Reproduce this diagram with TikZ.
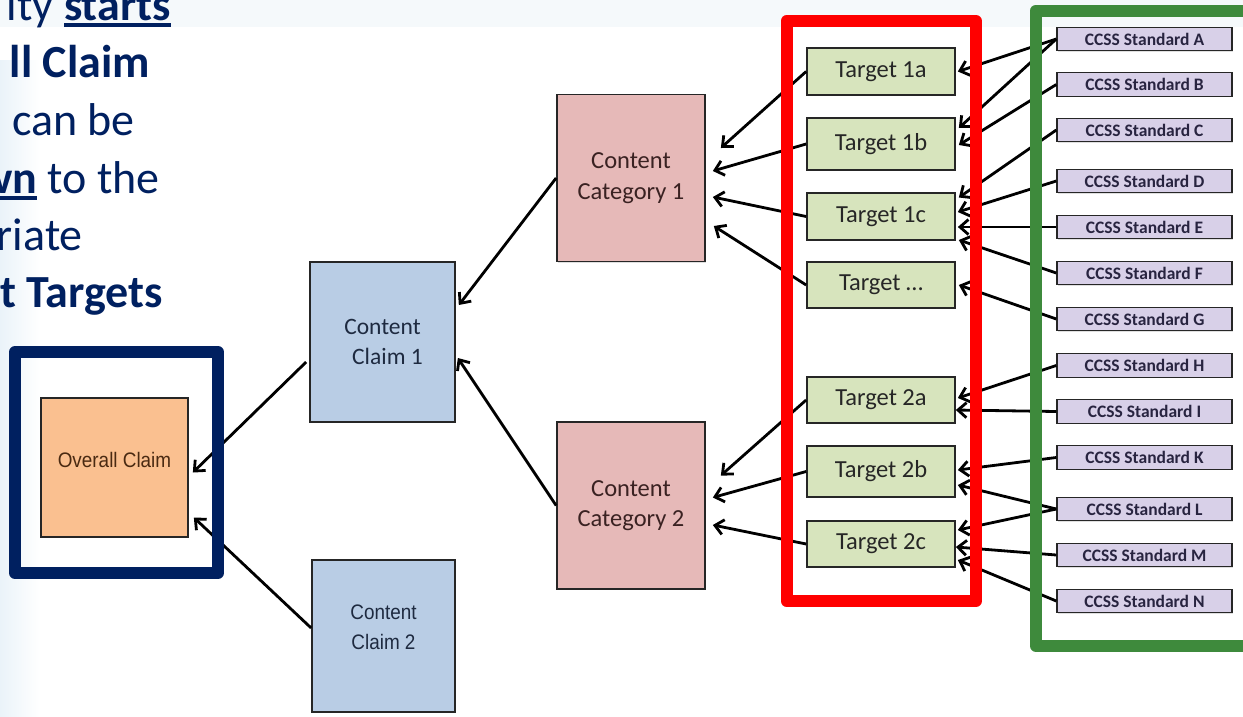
\documentclass[tikz,border=0pt]{standalone}
\usepackage{fontspec}
\setmainfont{Carlito}
\newfontfamily\narrowsans[FakeStretch=0.9]{Liberation Sans}
\usetikzlibrary{arrows.meta,calc,shadows}

\definecolor{navy}{RGB}{0,32,96}
\definecolor{frameRed}{RGB}{255,0,0}
\definecolor{frameGreen}{RGB}{62,138,60}
\definecolor{targetFill}{RGB}{215,228,189}
\definecolor{ccssFill}{RGB}{216,208,232}
\definecolor{catFill}{RGB}{230,185,184}
\definecolor{claimFill}{RGB}{185,205,229}
\definecolor{overallFill}{RGB}{250,192,144}
\definecolor{ccssText}{RGB}{40,36,64}
\definecolor{catText}{RGB}{58,34,34}
\definecolor{claimText}{RGB}{30,42,64}
\definecolor{overallText}{RGB}{74,42,18}
\definecolor{bandTint}{RGB}{245,249,251}
\definecolor{edgeTint}{RGB}{234,243,249}

% underlined word with a heavy rule
\newcommand\ulword[1]{\setbox0\hbox{#1}\rlap{\rule[-6.5pt]{\wd0}{4pt}}\box0}

\begin{document}
\begin{tikzpicture}[x=1pt,y=-1pt,
  box/.style={draw=black!85, line width=1.7pt, inner sep=0pt, align=center,
    drop shadow={shadow xshift=1.2pt, shadow yshift=-1.2pt, opacity=0.25}},
  target/.style={box, fill=targetFill, minimum width=148pt, minimum height=47pt,
    text=black!85, font=\fontsize{24.5}{28}\selectfont},
  ccss/.style={box, fill=ccssFill, minimum width=175pt, minimum height=23.5pt,
    line width=1.4pt, text=ccssText, font=\bfseries\fontsize{17.5}{20}\selectfont},
  category/.style={box, fill=catFill, minimum width=148pt, minimum height=167pt,
    text=catText, font=\fontsize{24.5}{30.5}\selectfont},
  claim/.style={box, fill=claimFill},
  overall/.style={box, fill=overallFill},
  narrowtext/.style={inner sep=0pt, align=center, font=\narrowsans\fontsize{21}{30}\selectfont},
  link/.style={line width=2.8pt, draw=black, -{Straight Barb[length=8.5pt,width=15pt]}},
  frame/.style={line width=12pt, line join=round},
  slidetext/.style={anchor=base east, inner sep=0pt, text=navy, font=\fontsize{46}{55}\selectfont}
]
\useasboundingbox (0,0) rectangle (1243,716);
\fill[white] (0,0) rectangle (1243,716);

% slide background tints
\fill[bandTint] (0,0) rectangle (1243,27);
\shade[left color=edgeTint, right color=white] (0,60) rectangle (40,716);

% slide text running in from the left
\node[slidetext] (l1) at (171,20) {ity \textbf{\ulword{starts}}};
\node[slidetext] (l2) at (150,77) {\textbf{ll Claim}};
\node[slidetext] (l3) at (135,135) {can be};
\node[slidetext] (l4) at (160,193) {\textbf{\ulword{wn}} to the};
\node[slidetext] (l5) at (83,250) {riate};
\node[slidetext] (l6) at (163,307) {\textbf{t Targets}};

% claims
\node[overall, minimum width=147pt, minimum height=139pt] (ov) at (114.5,467.5) {};
\node[narrowtext, text=overallText] (ovt) at (114.5,460) {Overall Claim};
\node[claim, minimum width=145pt, minimum height=160pt, text=claimText,
  font=\fontsize{23.5}{30.5}\selectfont] (cl1) at (382.5,342) {Content\\\hspace*{10pt}Claim 1};
\node[claim, minimum width=143pt, minimum height=152pt] (cl2) at (383.5,636) {};
\node[narrowtext, text=claimText] (cl2t) at (383.5,627) {Content\\Claim 2};

% content categories
\node[category] (cat1) at (631,178) {Content\\Category 1};
\node[category] (cat2) at (631,505.5) {Content\\Category 2};

% assessment targets
\node[target] (t1a) at (881,71.5) {Target 1a};
\node[target, minimum height=52pt] (t1b) at (881,144) {Target 1b};
\node[target] (t1c) at (881,216.5) {Target 1c};
\node[target, minimum height=46pt] (tdots) at (881,285) {Target …};
\node[target, minimum height=46pt] (t2a) at (881,400) {Target 2a};
\node[target, minimum height=51pt] (t2b) at (881,471.5) {Target 2b};
\node[target, minimum height=46pt] (t2c) at (881,544) {Target 2c};

% CCSS standards
\node[ccss] (ccA) at (1144.5,39) {CCSS Standard A};
\node[ccss] (ccB) at (1144.5,84.5) {CCSS Standard B};
\node[ccss] (ccC) at (1144.5,130) {CCSS Standard C};
\node[ccss] (ccD) at (1144.5,181) {CCSS Standard D};
\node[ccss] (ccE) at (1144.5,227) {CCSS Standard E};
\node[ccss] (ccF) at (1144.5,273) {CCSS Standard F};
\node[ccss] (ccG) at (1144.5,319) {CCSS Standard G};
\node[ccss] (ccH) at (1144.5,365.5) {CCSS Standard H};
\node[ccss] (ccI) at (1144.5,411.5) {CCSS Standard I};
\node[ccss] (ccK) at (1144.5,457.5) {CCSS Standard K};
\node[ccss] (ccL) at (1144.5,509) {CCSS Standard L};
\node[ccss] (ccM) at (1144.5,555) {CCSS Standard M};
\node[ccss] (ccN) at (1144.5,601) {CCSS Standard N};

% standards feed targets
\draw[link] (ccA.west) -- ($(t1a.east)+(2,0)$);
\draw[link] (ccA.west) -- ($(t1b.east)+(3,-16)$);
\draw[link] (ccB.west) -- ($(t1b.east)+(3,1)$);
\draw[link] (ccC.west) -- ($(t1c.east)+(3,-19)$);
\draw[link] (ccD.west) -- ($(t1c.east)+(2,-4.5)$);
\draw[link] (ccE.west) -- ($(t1c.east)+(2,10.5)$);
\draw[link] (ccF.west) -- ($(t1c.east)+(3,23.5)$);
\draw[link] (ccG.west) -- ($(tdots.east)+(3,0)$);
\draw[link] (ccH.west) -- ($(t2a.east)+(2,-2)$);
\draw[link] (ccI.west) -- ($(t2a.east)+(0,10)$);
\draw[link] (ccK.west) -- ($(t2b.east)+(2,-1.5)$);
\draw[link] (ccL.west) -- ($(t2b.east)+(2,13.5)$);
\draw[link] (ccL.west) -- ($(t2c.east)+(2,-14)$);
\draw[link] (ccM.west) -- ($(t2c.east)+(0,3)$);
\draw[link] (ccN.west) -- ($(t2c.east)+(2,16)$);

% targets feed categories
\draw[link] (t1a.west) -- ($(cat1.east)+(15,-30)$);
\draw[link] (t1b.west) -- ($(cat1.east)+(7,-7)$);
\draw[link] (t1c.west) -- ($(cat1.east)+(7,19)$);
\draw[link] (tdots.west) -- ($(cat1.east)+(8,48)$);
\draw[link] (t2a.west) -- ($(cat2.east)+(15,-30)$);
\draw[link] (t2b.west) -- ($(cat2.east)+(7,-8)$);
\draw[link] (t2c.west) -- ($(cat2.east)+(7,19.5)$);

% categories feed claims
\draw[link] (cat1.west) -- ($(cl1.east)+(3,-37)$);
\draw[link] (cat2.west) -- ($(cl1.east)+(2,16)$);

% claims feed the overall claim
\draw[link] ($(cl1.west)+(-3,20)$) -- ($(ov.east)+(4,5)$);
\draw[link] ($(cl2.west)+(0,-8)$) -- ($(ov.east)+(5,50)$);

% highlight frames
\draw[frame, draw=navy] (15,352) rectangle (218,573);
\draw[frame, draw=frameRed] (786.5,21) rectangle (976,601);
\draw[frame, draw=frameGreen] (1036,10.5) rectangle (1270,646);
\end{tikzpicture}
\end{document}
